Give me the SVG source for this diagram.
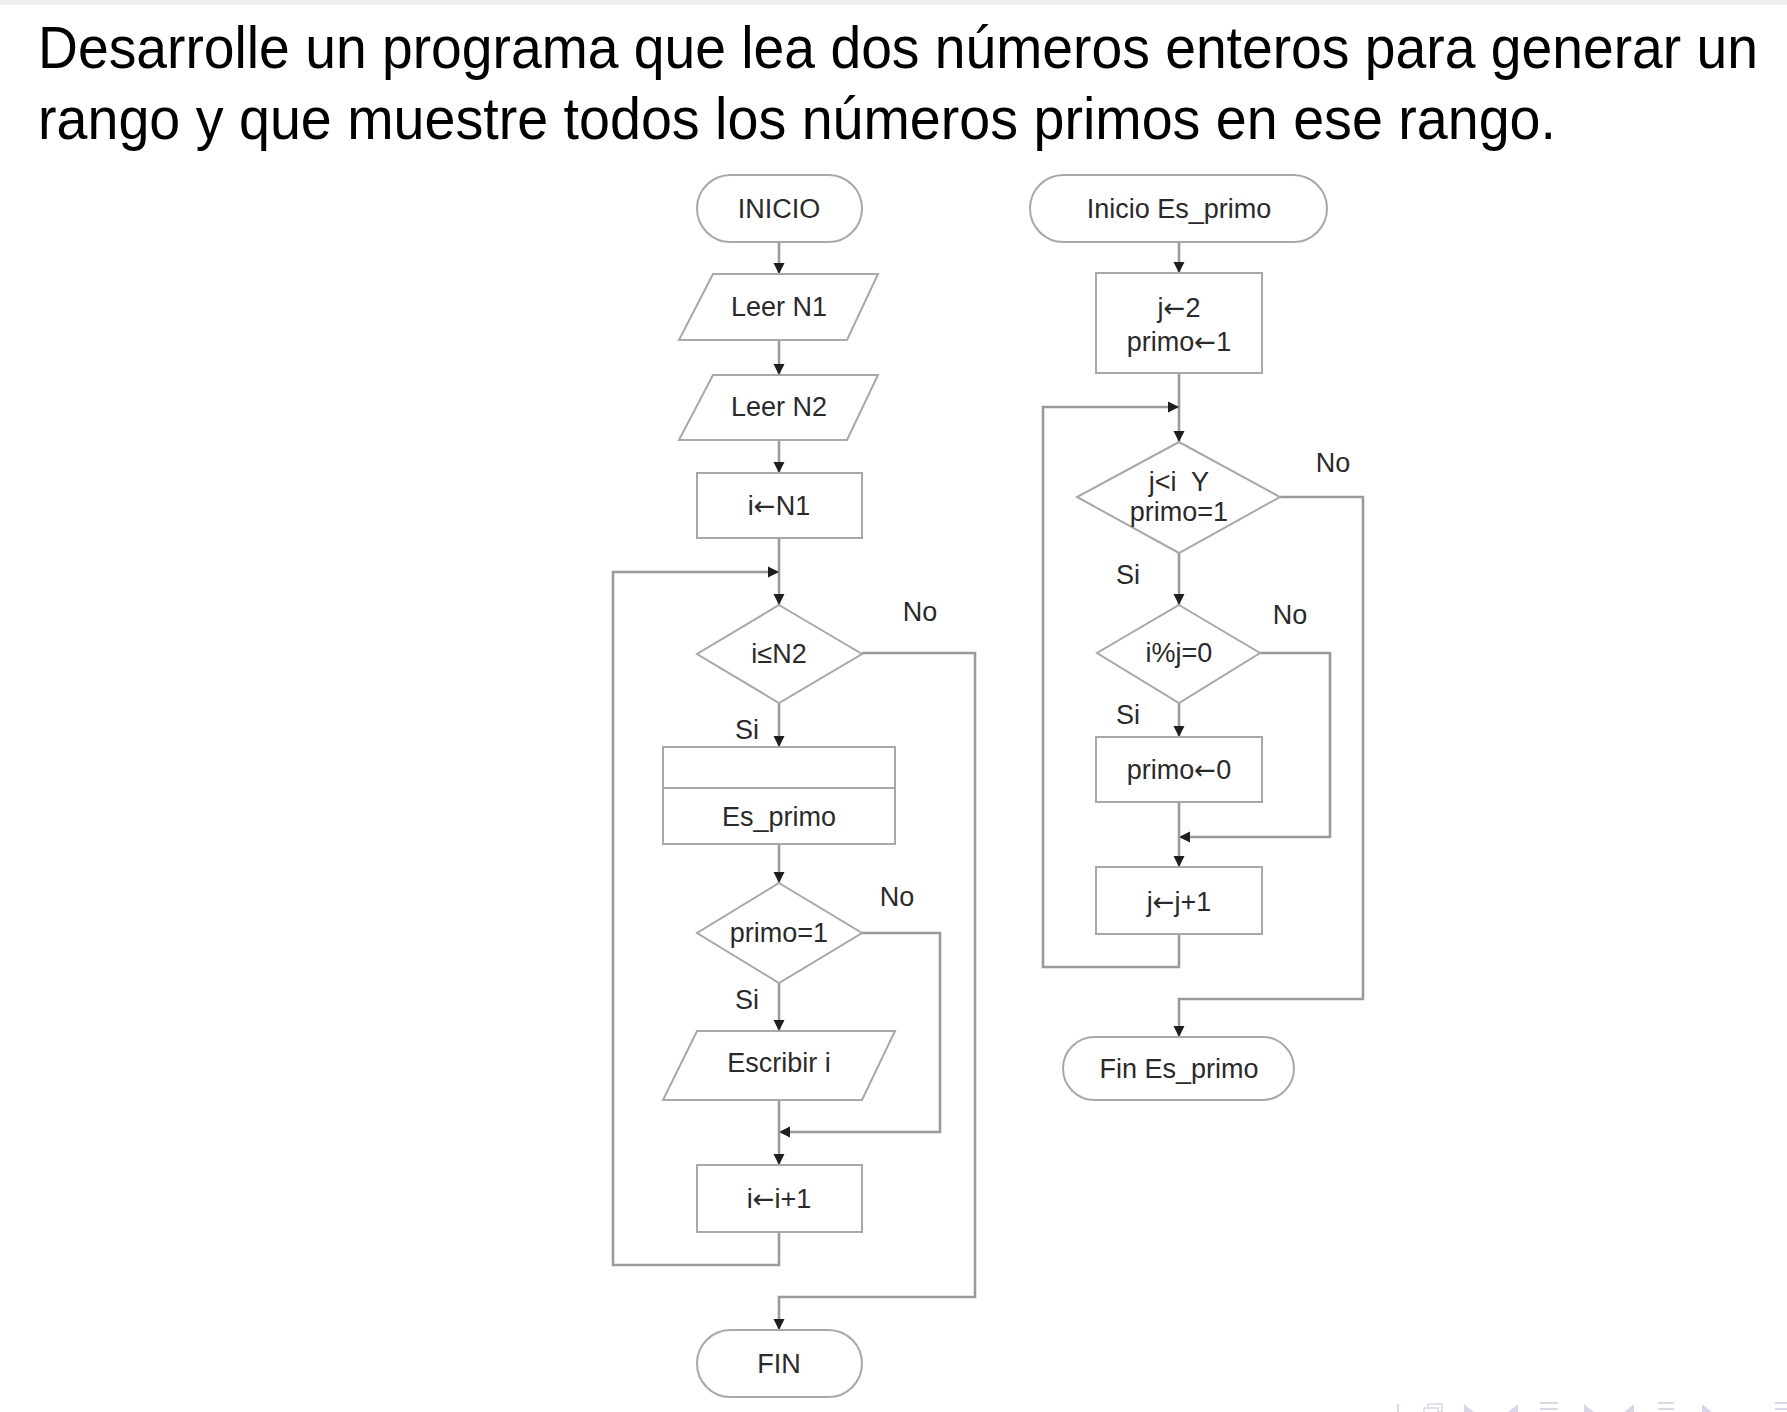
<svg xmlns="http://www.w3.org/2000/svg" width="1787" height="1412" viewBox="0 0 1787 1412">
<defs>
<style>
.title{font-family:"Liberation Sans",Arial,sans-serif;font-size:60px;fill:#000}
.t{font-family:"Liberation Sans",Arial,sans-serif;font-size:27px;fill:#2a2a2a;text-anchor:middle}
.ar{font-family:"DejaVu Sans",sans-serif;font-size:26px}
.shape{fill:#fff;stroke:#a8a8a8;stroke-width:2}
.conn{fill:none;stroke:#9a9a9a;stroke-width:2.6;marker-end:url(#ah)}
.nav{fill:#cfcfe6;stroke:none}
</style>
<marker id="ah" markerUnits="userSpaceOnUse" markerWidth="12" markerHeight="12" refX="11" refY="6" orient="auto">
<path d="M0,0.5 L11,6 L0,11.5 z" fill="#1e1e1e"/>
</marker>
</defs>
<rect x="0" y="0" width="1787" height="1412" fill="#fff"/>
<rect x="0" y="0" width="1787" height="5" fill="#efefef"/>
<text class="title" x="38" y="68" textLength="1720" lengthAdjust="spacingAndGlyphs">Desarrolle un programa que lea dos números enteros para generar un</text>
<text class="title" x="38" y="139" textLength="1518" lengthAdjust="spacingAndGlyphs">rango y que muestre todos los números primos en ese rango.</text>

<g id="connectors">
<path class="conn" d="M779,242 V274"/>
<path class="conn" d="M779,340 V375"/>
<path class="conn" d="M779,440 V473"/>
<path class="conn" d="M779,538 V605"/>
<path class="conn" d="M779,1232 V1265 H613 V572 H779"/>
<path class="conn" d="M862,653 H975 V1297 H779 V1330"/>
<path class="conn" d="M779,703 V747"/>
<path class="conn" d="M779,844 V883"/>
<path class="conn" d="M779,983 V1031"/>
<path class="conn" d="M862,933 H940 V1132 H779"/>
<path class="conn" d="M779,1100 V1165"/>
<path class="conn" d="M1179,242 V273"/>
<path class="conn" d="M1179,373 V442"/>
<path class="conn" d="M1179,934 V967 H1043 V407 H1179"/>
<path class="conn" d="M1179,553 V605"/>
<path class="conn" d="M1280,497 H1363 V999 H1179 V1037"/>
<path class="conn" d="M1179,703 V737"/>
<path class="conn" d="M1260,653 H1330 V837 H1179"/>
<path class="conn" d="M1179,802 V867"/>
<text class="t" x="920" y="621">No</text>
<text class="t" x="897" y="906">No</text>
<text class="t" x="747" y="739">Si</text>
<text class="t" x="747" y="1009">Si</text>
<text class="t" x="1333" y="472">No</text>
<text class="t" x="1290" y="624">No</text>
<text class="t" x="1128" y="584">Si</text>
<text class="t" x="1128" y="724">Si</text>
</g>

<g id="inicio">
<rect class="shape" x="697" y="175" width="165" height="67" rx="33.5"/>
<text class="t" x="779" y="218">INICIO</text>
</g>
<g id="leer-n1">
<polygon class="shape" points="713,274 878,274 847,340 679,340"/>
<text class="t" x="779" y="316">Leer N1</text>
</g>
<g id="leer-n2">
<polygon class="shape" points="713,375 878,375 847,440 679,440"/>
<text class="t" x="779" y="416">Leer N2</text>
</g>
<g id="i-n1">
<rect class="shape" x="697" y="473" width="165" height="65"/>
<text class="t" x="779" y="515">i<tspan class="ar">←</tspan>N1</text>
</g>
<g id="cond-i-n2">
<polygon class="shape" points="779,605 862,654 779,703 697,654"/>
<text class="t" x="779" y="663">i≤N2</text>
</g>
<g id="es-primo-call">
<rect class="shape" x="663" y="747" width="232" height="97"/>
<line x1="663" y1="788" x2="895" y2="788" stroke="#a8a8a8" stroke-width="2"/>
<text class="t" x="779" y="826">Es_primo</text>
</g>
<g id="cond-primo">
<polygon class="shape" points="779,883 862,933 779,983 697,933"/>
<text class="t" x="779" y="942">primo=1</text>
</g>
<g id="escribir">
<polygon class="shape" points="697,1031 895,1031 862,1100 663,1100"/>
<text class="t" x="779" y="1072">Escribir i</text>
</g>
<g id="inc-i">
<rect class="shape" x="697" y="1165" width="165" height="67"/>
<text class="t" x="779" y="1208">i<tspan class="ar">←</tspan>i+1</text>
</g>
<g id="fin">
<rect class="shape" x="697" y="1330" width="165" height="67" rx="33.5"/>
<text class="t" x="779" y="1373">FIN</text>
</g>

<g id="inicio-es-primo">
<rect class="shape" x="1030" y="175" width="297" height="67" rx="33.5"/>
<text class="t" x="1179" y="218">Inicio Es_primo</text>
</g>
<g id="init-j">
<rect class="shape" x="1096" y="273" width="166" height="100"/>
<text class="t" x="1179" y="317">j<tspan class="ar">←</tspan>2</text>
<text class="t" x="1179" y="351">primo<tspan class="ar">←</tspan>1</text>
</g>
<g id="cond-j">
<polygon class="shape" points="1179,442 1280,497 1179,553 1077,497"/>
<text class="t" x="1179" y="491" xml:space="preserve">j&lt;i  Y</text>
<text class="t" x="1179" y="521">primo=1</text>
</g>
<g id="cond-mod">
<polygon class="shape" points="1179,605 1260,653 1179,703 1097,653"/>
<text class="t" x="1179" y="662">i%j=0</text>
</g>
<g id="primo-0">
<rect class="shape" x="1096" y="737" width="166" height="65"/>
<text class="t" x="1179" y="779">primo<tspan class="ar">←</tspan>0</text>
</g>
<g id="inc-j">
<rect class="shape" x="1096" y="867" width="166" height="67"/>
<text class="t" x="1179" y="911">j<tspan class="ar">←</tspan>j+1</text>
</g>
<g id="fin-es-primo">
<rect class="shape" x="1063" y="1037" width="231" height="63" rx="31.5"/>
<text class="t" x="1179" y="1078">Fin Es_primo</text>
</g>

<g id="nav" opacity="0.8">
<rect class="nav" x="1397" y="1404" width="2" height="8"/>
<rect x="1428" y="1404" width="14" height="8" fill="none" stroke="#cfcfe6" stroke-width="1.5"/>
<rect x="1424" y="1408" width="14" height="6" fill="#fff" stroke="#cfcfe6" stroke-width="1.5"/>
<polygon class="nav" points="1464,1404 1474,1412 1464,1412"/>
<polygon class="nav" points="1518,1404 1508,1412 1518,1412"/>
<rect class="nav" x="1540" y="1402" width="18" height="2"/>
<rect class="nav" x="1540" y="1408" width="18" height="2"/>
<polygon class="nav" points="1584,1404 1594,1412 1584,1412"/>
<polygon class="nav" points="1634,1404 1624,1412 1634,1412"/>
<rect class="nav" x="1658" y="1402" width="16" height="2"/>
<rect class="nav" x="1658" y="1408" width="16" height="2"/>
<polygon class="nav" points="1702,1404 1712,1412 1702,1412"/>
<rect class="nav" x="1775" y="1402" width="12" height="2"/>
<rect class="nav" x="1775" y="1408" width="12" height="2"/>
</g>
</svg>
